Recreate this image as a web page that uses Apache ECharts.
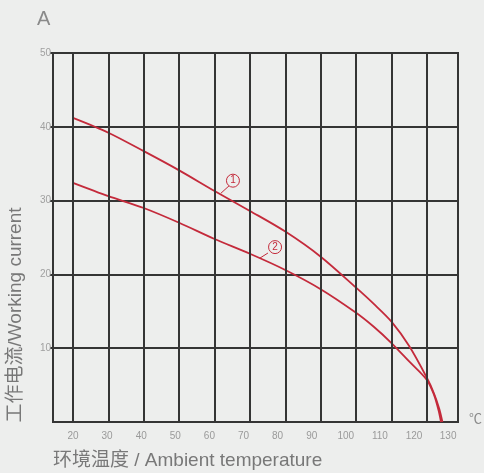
<!DOCTYPE html>
<html>
<head>
<meta charset="utf-8">
<script src="https://cdn.jsdelivr.net/npm/echarts@6/dist/echarts.min.js"></script>
<style>
  html, body { margin: 0; padding: 0; background: #edeeed; }
  #chart { width: 484px; height: 473px; }
</style>
</head>
<body>
<div id="chart"></div>
<script>
// curve 1
var temps1 = [20, 30, 40, 50, 60, 70, 80, 90, 100, 105, 110, 115, 120, 122, 123.5, 124.4];
var current1 = [41.2, 39.2, 36.7, 34.1, 31.3, 28.6, 25.8, 22.4, 18.2, 16.0, 13.6, 10.3, 6.0, 3.9, 1.8, 0];
// curve 2
var temps2 = [20, 30, 40, 50, 60, 70, 80, 90, 100, 105, 110, 115, 120, 122, 123.3, 124.0];
var current2 = [32.4, 30.6, 29.0, 27.0, 24.8, 22.8, 20.6, 18.0, 14.8, 12.9, 10.7, 8.2, 5.7, 3.7, 1.6, 0];
// grid / tick labels
var gridTemps = [20, 30, 40, 50, 60, 70, 80, 90, 100, 110, 120];
var tempLabels = [20, 30, 40, 50, 60, 70, 80, 90, 100, 110, 120, 130];

var red = "#c42a3b";
var dark = "#353535";
var bg = "#edeeed";
var font = "'Liberation Sans', 'Noto Sans CJK SC', sans-serif";

function pairs(xs, ys) {
  return xs.map(function (x, i) { return [x, ys[i]]; });
}

function tag(txt, c, from, to) {
  return {
    markPoint: {
      silent: true,
      symbol: "circle",
      symbolSize: 13,
      itemStyle: { color: bg, borderColor: red, borderWidth: 1 },
      label: { show: true, formatter: txt, color: red, fontSize: 10, fontFamily: font },
      data: [{ coord: c }]
    },
    markLine: {
      silent: true,
      symbol: ["none", "none"],
      label: { show: false },
      lineStyle: { color: red, width: 1, type: "solid" },
      data: [[{ coord: from }, { coord: to }]]
    }
  };
}

var chart = echarts.init(document.getElementById("chart"));

var s1 = {
  type: "line", xAxisIndex: 0, z: 3,
  data: pairs(temps1, current1),
  smooth: 0.3, showSymbol: false, symbol: "none",
  lineStyle: { color: red, width: 1.8 }
};
Object.assign(s1, tag("1", [65.2, 32.7], [64.1, 32.0], [61.8, 31.0]));

var s2 = {
  type: "line", xAxisIndex: 0, z: 3,
  data: pairs(temps2, current2),
  smooth: 0.3, showSymbol: false, symbol: "none",
  lineStyle: { color: red, width: 1.8 }
};
Object.assign(s2, tag("2", [77.1, 23.7], [75.1, 22.9], [72.8, 22.2]));

var option = {
  backgroundColor: bg,
  animation: false,
  grid: {
    left: 53, top: 53, right: 26, bottom: 51,
    show: true, borderColor: dark, borderWidth: 2
  },
  xAxis: [
    {
      type: "value", min: 14.35, max: 128.8,
      axisLine: { show: false }, axisTick: { show: false },
      axisLabel: { show: false }, splitLine: { show: false }
    },
    {
      // label axis: the printed labels are spaced a bit tighter than the grid
      type: "value", position: "bottom", min: 14.13, max: 132.9,
      axisLine: { show: false }, axisTick: { show: false }, splitLine: { show: false },
      axisLabel: {
        customValues: tempLabels,
        color: "#9a9a9a", fontSize: 10, fontFamily: font, margin: 9
      }
    }
  ],
  yAxis: {
    type: "value", min: 0, max: 50, interval: 10,
    axisLine: { show: true, lineStyle: { color: dark, width: 2 } },
    axisTick: { show: true, length: 3, lineStyle: { color: dark, width: 2 } },
    axisLabel: { color: "#a0a0a0", fontSize: 10, fontFamily: font, margin: 2, showMinLabel: false },
    splitLine: { show: true, lineStyle: { color: dark, width: 2 } }
  },
  graphic: [
    { type: "text", left: 37, top: 9,
      style: { text: "A", fill: "#8a8a8a", font: "20px " + font } },
    { type: "text", left: 469, top: 413,
      style: { text: "℃", fill: "#8a8a8a", font: "13px " + font } },
    { type: "text", left: 53, top: 451,
      style: { text: "环境温度 / Ambient temperature", fill: "#787878", font: "19px " + font } },
    { type: "text", x: 16, y: 315, rotation: Math.PI / 2,
      style: { text: "工作电流/Working current", fill: "#787878", font: "19px " + font,
        textAlign: "center", textVerticalAlign: "middle", align: "center", verticalAlign: "middle" } }
  ],
  series: [
    {
      type: "line", xAxisIndex: 0, z: 1, data: [],
      markLine: {
        silent: true,
        symbol: ["none", "none"],
        label: { show: false },
        lineStyle: { color: dark, width: 2, type: "solid" },
        data: gridTemps.map(function (t) { return { xAxis: t }; })
      }
    },
    s1,
    s2
  ]
};

chart.setOption(option);
</script>
</body>
</html>
